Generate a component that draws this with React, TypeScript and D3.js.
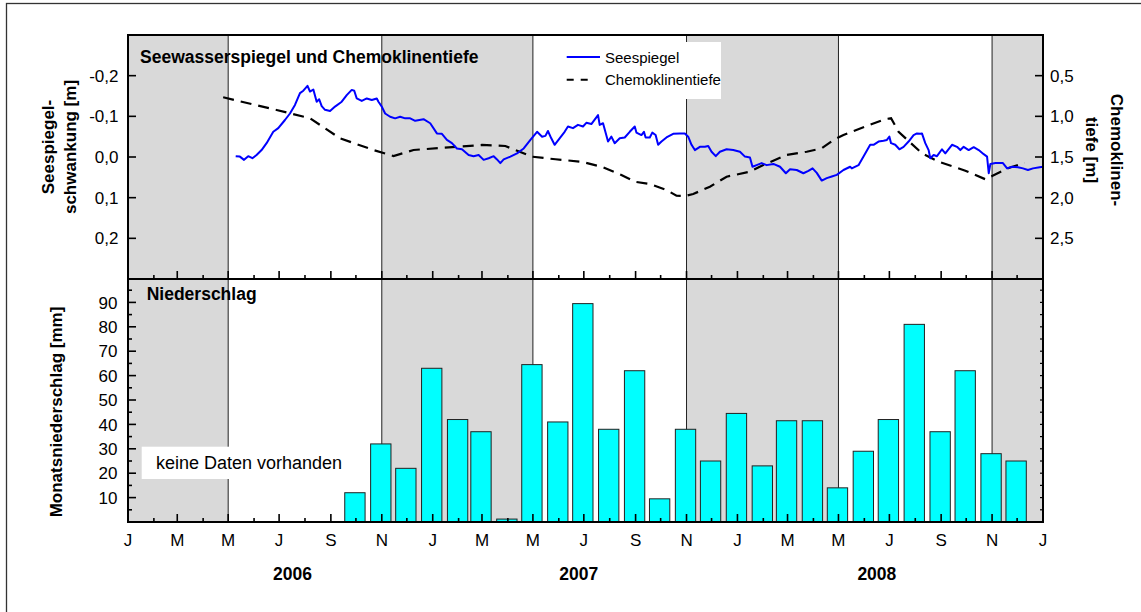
import React from "react";
import * as d3 from "d3";

// Seespiegel (lake level deviation, m) — days since 2006-01-01
const seeDays = [129,134,139,144,149,154,160,166,174,180,188,194,200,206,210,215,218,222,226,229,232,236,242,248,256,262,268,271,274,280,286,292,298,300,304,308,314,320,326,332,338,344,354,362,370,376,382,388,394,400,408,414,420,426,432,438,442,446,450,458,466,474,482,490,496,500,503,507,511,517,523,527,533,539,545,549,555,563,565,569,575,579,583,589,595,601,607,609,615,618,620,625,628,632,635,639,645,653,661,667,671,675,679,685,691,695,699,704,709,717,725,733,739,745,748,753,759,765,773,781,788,793,801,809,815,820,825,831,837,843,849,857,865,867,875,881,889,893,899,905,909,912,914,919,924,929,935,941,945,949,951,955,959,961,965,969,975,979,987,993,997,1001,1007,1013,1019,1025,1029,1031,1033,1039,1045,1048,1053,1059,1066,1072,1078,1084,1092,1096];
const seeVals = [-0.002,-0.001,0.007,-0.002,0.003,-0.005,-0.017,-0.034,-0.062,-0.071,-0.091,-0.107,-0.128,-0.157,-0.163,-0.175,-0.161,-0.166,-0.136,-0.142,-0.125,-0.116,-0.113,-0.124,-0.136,-0.152,-0.165,-0.163,-0.144,-0.138,-0.144,-0.14,-0.144,-0.136,-0.124,-0.107,-0.099,-0.095,-0.099,-0.095,-0.095,-0.089,-0.093,-0.083,-0.058,-0.057,-0.042,-0.034,-0.021,-0.019,-0.005,-0.002,-0.005,0.007,0.003,-0.002,0.006,0.015,0.006,-0.001,-0.009,-0.021,-0.042,-0.062,-0.05,-0.052,-0.064,-0.046,-0.03,-0.046,-0.062,-0.075,-0.071,-0.079,-0.075,-0.084,-0.081,-0.103,-0.079,-0.083,-0.038,-0.05,-0.034,-0.046,-0.048,-0.062,-0.075,-0.06,-0.054,-0.062,-0.048,-0.048,-0.06,-0.054,-0.03,-0.038,-0.048,-0.057,-0.058,-0.058,-0.05,-0.03,-0.017,-0.025,-0.025,-0.027,-0.013,-0.002,-0.013,-0.019,-0.017,-0.013,-0.001,0.001,0.024,0.02,0.015,0.02,0.017,0.024,0.04,0.03,0.032,0.04,0.034,0.028,0.039,0.058,0.052,0.048,0.044,0.032,0.024,0.028,0.02,-0.001,-0.03,-0.03,-0.038,-0.04,-0.042,-0.05,-0.034,-0.03,-0.019,-0.025,-0.038,-0.054,-0.058,-0.057,-0.058,-0.034,-0.017,0.003,-0.005,-0.002,-0.019,-0.009,-0.03,-0.025,-0.017,-0.025,-0.017,-0.024,-0.017,-0.007,-0.001,0.04,0.017,0.015,0.015,0.015,0.028,0.024,0.025,0.028,0.032,0.028,0.025,0.024];

// Chemoklinentiefe (m) — days since 2006-01-01
const chemDays = [114,178,218,254,294,318,342,384,424,452,464,484,512,543,567,591,607,625,645,657,667,677,697,717,745,761,789,813,831,845,857,867,907,914,923,951,971,1003,1027,1035,1054,1074];
const chemVals = [0.766,0.922,1.024,1.27,1.414,1.488,1.414,1.381,1.352,1.365,1.414,1.496,1.528,1.558,1.619,1.721,1.804,1.832,1.906,1.976,1.98,1.955,1.865,1.742,1.681,1.598,1.475,1.435,1.393,1.291,1.23,1.189,1.033,1.024,1.189,1.455,1.558,1.668,1.774,1.734,1.639,1.57];

// Monatsniederschlag (mm)
const rainMonths = ["2006-10","2006-11","2006-12","2007-01","2007-02","2007-03","2007-04","2007-05","2007-06","2007-07","2007-08","2007-09","2007-10","2007-11","2007-12","2008-01","2008-02","2008-03","2008-04","2008-05","2008-06","2008-07","2008-08","2008-09","2008-10","2008-11","2008-12"];
const rainVals = [12,32,22,63,42,37,1.2,64.5,41,89.5,38,62,9.5,38,25,44.5,23,41.5,41.5,14,29,42,81,37,62,28,25];

const monthLetters = ["J","F","M","A","M","J","J","A","S","O","N","D"];
const seeTicks = [-0.2,-0.1,0,0.1,0.2];
const seeTickLabels = ["-0,2","-0,1","0,0","0,1","0,2"];
const chemTicks = [0.5,1,1.5,2,2.5];
const chemTickLabels = ["0,5","1,0","1,5","2,0","2,5"];
const rainTicks = [10,20,30,40,50,60,70,80,90];
const yearLabels = ["2006","2007","2008"];
const yearLabelDates = ["2006-07-17","2007-06-25","2008-06-16"];
// winter (shaded) periods
const shadeStarts = ["2006-01-01","2006-11-01","2007-11-01","2008-11-01"];
const shadeEnds = ["2006-05-01","2007-05-01","2008-05-01","2009-01-01"];
const dividerDates = ["2006-05-01","2006-11-01","2007-05-01","2007-11-01","2008-05-01","2008-11-01"];

const FONT = "'Liberation Sans', Arial, sans-serif";
const pd = (s: string) => {
  const p = s.split("-").map(Number);
  return new Date(p[0], p[1] - 1, p[2] || 1);
};
const dayDate = (d: number) => new Date(2006, 0, 1 + d);

export default function App() {
  const L = 128, R = 1043, T = 35, MID = 279, B = 522;
  const start = new Date(2006, 0, 1), end = new Date(2009, 0, 1);
  const x = d3.scaleTime().domain([start, end]).range([L, R]);
  const ySee = d3.scaleLinear().domain([-0.3, 0.3]).range([T, MID]);
  const yChem = d3.scaleLinear().domain([0, 3]).range([T, MID]);
  const yRain = d3.scaleLinear().domain([0, 100]).range([B, B - 244]);

  const seeLine = d3.line<number>().x((_, i) => x(dayDate(seeDays[i]))).y((v) => ySee(v))(seeVals) || "";
  const chemLine = d3.line<number>().x((_, i) => x(dayDate(chemDays[i]))).y((v) => yChem(v))(chemVals) || "";

  const months = d3.timeMonth.range(start, d3.timeDay.offset(end, 1));
  const barW = (0.8 * (R - L)) / 36;

  const rainMinor = d3.range(5, 100, 5);

  return (
    <svg width={1141} height={612} style={{ position: "absolute", left: 0, top: 0, background: "#fff" }} fontFamily={FONT}>
      <rect x={0} y={0} width={1141} height={612} fill="#fff" />
      <rect x={6.5} y={3.5} width={1300} height={800} fill="none" stroke="#333" strokeWidth={1.3} />
      <defs>
        <clipPath id="topClip"><rect x={L} y={T} width={R - L} height={MID - T} /></clipPath>
      </defs>
      {/* shading */}
      {shadeStarts.map((s, i) => (
        <rect key={"sh" + i} x={x(pd(s))} y={T} width={x(pd(shadeEnds[i])) - x(pd(s))} height={B - T} fill="#d9d9d9" />
      ))}
      {dividerDates.map((s, i) => (
        <line key={"dv" + i} x1={x(pd(s))} x2={x(pd(s))} y1={T} y2={B} stroke="#222" strokeWidth={1} />
      ))}
      {/* titles inside panels */}
      <text x={140} y={62.7} fontSize={17.5} fontWeight="bold">Seewasserspiegel und Chemoklinentiefe</text>
      <text x={146.7} y={300} fontSize={17.5} fontWeight="bold">Niederschlag</text>

      {/* legend */}
      <rect x={560} y={42} width={161} height={57} fill="#fff" />
      <line x1={566.7} x2={600} y1={57} y2={57} stroke="#0000ff" strokeWidth={2} />
      <text x={605} y={63} fontSize={15}>Seespiegel</text>
      <line x1={566.7} x2={589} y1={79.7} y2={79.7} stroke="#000" strokeWidth={2} strokeDasharray="7,7" />
      <text x={605} y={84.7} fontSize={15}>Chemoklinentiefe</text>

      {/* lines */}
      <g clipPath="url(#topClip)">
        <path d={chemLine} fill="none" stroke="#000" strokeWidth={2.2} strokeDasharray="11,7" />
        <path d={seeLine} fill="none" stroke="#0000ff" strokeWidth={2} strokeLinejoin="round" />
      </g>

      {/* no data box */}
      <rect x={141.7} y={446.7} width={206} height={32.3} fill="#fff" />
      <text x={156} y={469.3} fontSize={18}>keine Daten vorhanden</text>

      {/* bars */}
      {rainMonths.map((m, i) => {
        const cx = x(pd(m)) - 1;
        return (
          <rect key={"b" + i} x={cx - barW / 2} y={yRain(rainVals[i])} width={barW} height={B - yRain(rainVals[i])}
            fill="#00ffff" stroke="#222" strokeWidth={1} />
        );
      })}

      {/* panel borders */}
      <rect x={L} y={T} width={R - L} height={MID - T} fill="none" stroke="#000" strokeWidth={2} />
      <rect x={L} y={MID} width={R - L} height={B - MID} fill="none" stroke="#000" strokeWidth={2} />

      {/* x ticks (both panels, inward) */}
      {months.map((m, i) => {
        const major = m.getMonth() % 2 === 0;
        const len = major ? 8 : 4;
        const xx = x(m);
        return (
          <g key={"xt" + i}>
            <line x1={xx} x2={xx} y1={B} y2={B - len} stroke="#000" strokeWidth={1.6} />
            <line x1={xx} x2={xx} y1={MID} y2={MID - len} stroke="#000" strokeWidth={1.6} />
            {major && (
              <text x={xx} y={546} fontSize={17} textAnchor="middle">{monthLetters[m.getMonth()]}</text>
            )}
          </g>
        );
      })}
      {yearLabels.map((t, i) => (
        <text key={"yl" + i} x={x(pd(yearLabelDates[i]))} y={580} fontSize={17.5} fontWeight="bold" textAnchor="middle">{t}</text>
      ))}

      {/* top left axis */}
      {seeTicks.map((v, i) => (
        <g key={"st" + i}>
          <line x1={L} x2={L + 8} y1={ySee(v)} y2={ySee(v)} stroke="#000" strokeWidth={1.6} />
          <text x={118.5} y={ySee(v)} dy="0.36em" fontSize={17} textAnchor="end">{seeTickLabels[i]}</text>
        </g>
      ))}
      {/* top right axis */}
      {chemTicks.map((v, i) => (
        <g key={"ct" + i}>
          <line x1={R - 8} x2={R} y1={yChem(v)} y2={yChem(v)} stroke="#000" strokeWidth={1.6} />
          <text x={1050} y={yChem(v)} dy="0.36em" fontSize={17} textAnchor="start">{chemTickLabels[i]}</text>
        </g>
      ))}
      {/* rain axis */}
      {rainMinor.map((v, i) => {
        const major = v % 10 === 0;
        return (
          <g key={"rt" + i}>
            <line x1={L} x2={L + (major ? 8 : 4)} y1={yRain(v)} y2={yRain(v)} stroke="#000" strokeWidth={1.6} />
            <line x1={R} x2={R - 3} y1={yRain(v)} y2={yRain(v)} stroke="#000" strokeWidth={1.2} />
          </g>
        );
      })}
      {rainTicks.map((v, i) => (
        <text key={"rl" + i} x={117.5} y={yRain(v)} dy="0.36em" fontSize={17} textAnchor="end">{v}</text>
      ))}

      {/* axis titles */}
      <text transform="translate(48.3,147) rotate(-90)" textAnchor="middle" dominantBaseline="central" fontSize={17} fontWeight="bold">Seespiegel-</text>
      <text transform="translate(70,147) rotate(-90)" textAnchor="middle" dominantBaseline="central" fontSize={17} fontWeight="bold">schwankung [m]</text>
      <text transform="translate(1116.7,150) rotate(90)" textAnchor="middle" dominantBaseline="central" fontSize={17} fontWeight="bold">Chemoklinen-</text>
      <text transform="translate(1091.7,150) rotate(90)" textAnchor="middle" dominantBaseline="central" fontSize={17} fontWeight="bold">tiefe [m]</text>
      <text transform="translate(56,412) rotate(-90)" textAnchor="middle" dominantBaseline="central" fontSize={17} fontWeight="bold">Monatsniederschlag [mm]</text>
    </svg>
  );
}
